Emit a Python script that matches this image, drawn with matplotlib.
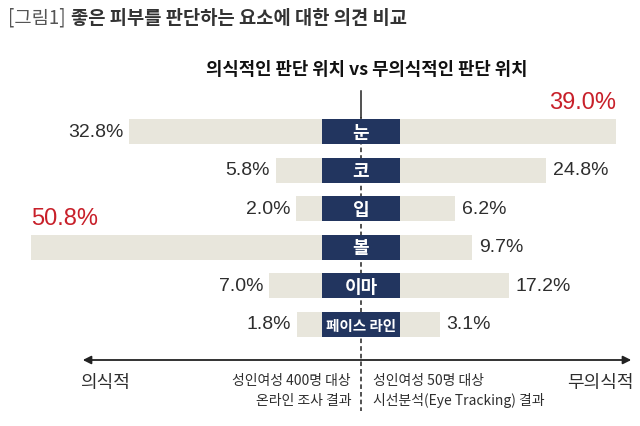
import numpy as np
import matplotlib
matplotlib.use('Agg')
import matplotlib.pyplot as plt

# data
parts = ['눈', '코', '입', '볼', '이마', '페이스 라인']
conscious = [32.8, 5.8, 2.0, 50.8, 7.0, 1.8]      # 성인여성 400명 온라인 조사
unconscious = [39.0, 24.8, 6.2, 9.7, 17.2, 3.1]   # 성인여성 50명 시선분석

title_tag = '[그림1]'
title = '좋은 피부를 판단하는 요소에 대한 의견 비교'
subtitle = '의식적인 판단 위치 vs 무의식적인 판단 위치'
left_note = ['성인여성 400명 대상', '온라인 조사 결과']
right_note = ['성인여성 50명 대상', '시선분석(Eye Tracking) 결과']

KR = ['Noto Sans CJK KR', 'DejaVu Sans']
NUM = ['Liberation Sans Narrow', 'Liberation Sans', 'DejaVu Sans']
BAR = '#e8e6dc'
NAVY = '#22355f'
RED = '#c8202a'
TXT = '#2e2e2e'

W, H = 640, 427
cx = 361                  # centre line, px
rows = 132.5 + 38.5 * np.arange(len(parts))
bh = 25
box_w = 78
offL, kL = 9.9, 5.43      # hidden part behind the label box (units) and px per %
offR, kR = 12.9, 4.91

fig = plt.figure(figsize=(W / 100, H / 100), dpi=100)
fig.patch.set_facecolor('white')

axL = fig.add_axes([0, 0, cx / W, 1])
axL.set_xlim(cx / kL, 0); axL.set_ylim(H, 0); axL.axis('off')
axR = fig.add_axes([cx / W, 0, 1 - cx / W, 1])
axR.set_xlim(0, (W - cx) / kR); axR.set_ylim(H, 0); axR.axis('off')
ax = fig.add_axes([0, 0, 1, 1])
ax.set_xlim(0, W); ax.set_ylim(H, 0); ax.axis('off')

# bars start under the label box
axL.barh(rows, np.add(conscious, offL), left=0, height=bh, color=BAR, lw=0)
axR.barh(rows, np.add(unconscious, offR), left=0, height=bh, color=BAR, lw=0)

iL, iR = int(np.argmax(conscious)), int(np.argmax(unconscious))
for i, v in enumerate(conscious):
    if i == iL:
        axL.annotate(f'{v:.1f}%', (v + offL, rows[i]), xytext=(0, 29), textcoords='offset pixels',
                     ha='left', va='center', fontsize=17, color=RED, family=NUM)
    else:
        axL.annotate(f'{v:.1f}%', (v + offL, rows[i]), xytext=(-6, 0), textcoords='offset pixels',
                     ha='right', va='center', fontsize=14, color=TXT, family=NUM)
for i, v in enumerate(unconscious):
    if i == iR:
        axR.annotate(f'{v:.1f}%', (v + offR, rows[i]), xytext=(0, 29), textcoords='offset pixels',
                     ha='right', va='center', fontsize=17, color=RED, family=NUM)
    else:
        axR.annotate(f'{v:.1f}%', (v + offR, rows[i]), xytext=(7, 0), textcoords='offset pixels',
                     ha='left', va='center', fontsize=14, color=TXT, family=NUM)

# centre line
ax.plot([cx, cx], [92, 118], color='#222', lw=1.1, zorder=1)
ax.plot([cx, cx], [118, 412], color='#222', lw=1.1, ls=(0, (3, 2)), zorder=1)

# category boxes
ax.barh(rows, box_w, left=cx - box_w / 2, height=bh, color=NAVY, lw=0, zorder=2)
for y, p in zip(rows, parts):
    ax.text(cx, y + 1, p, ha='center', va='center', color='white', fontweight='bold',
            fontsize=13 if len(p) < 3 else 10.5, family=KR, zorder=3)

# titles
ax.text(8, 18, title_tag, ha='left', va='center', fontsize=13.5, color='#555', family=KR)
ax.text(71, 18, title, ha='left', va='center', fontsize=13.5, color='#333', fontweight='bold', family=KR)
ax.text(367, 70, subtitle, ha='center', va='center', fontsize=12.8, color='#111', fontweight='bold', family=KR)

# bottom axis
ax.annotate('', xy=(80, 361), xytext=(634, 361),
            arrowprops=dict(arrowstyle='<|-|>', lw=1.3, color='#222', mutation_scale=12))
ax.text(80, 383, '의식적', ha='left', va='center', fontsize=13, color=TXT, family=KR)
ax.text(634, 383, '무의식적', ha='right', va='center', fontsize=13, color=TXT, family=KR)
ax.text(351, 381, left_note[0], ha='right', va='center', fontsize=10, color=TXT, family=KR)
ax.text(351, 401, left_note[1], ha='right', va='center', fontsize=10, color=TXT, family=KR)
ax.text(373, 381, right_note[0], ha='left', va='center', fontsize=10, color=TXT, family=KR)
ax.text(373, 401, right_note[1], ha='left', va='center', fontsize=10, color=TXT, family=KR)

fig.savefig('out.png', dpi=100, facecolor='white')
